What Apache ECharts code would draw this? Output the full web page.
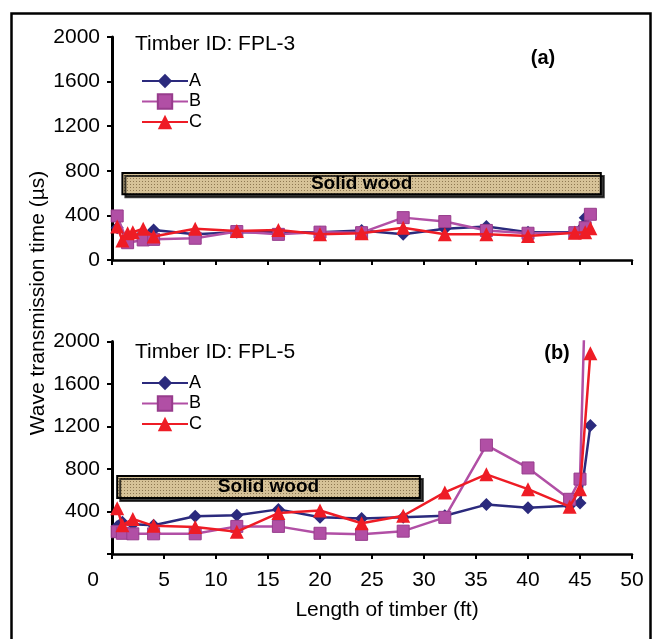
<!DOCTYPE html>
<html><head><meta charset="utf-8">
<script src="https://cdn.jsdelivr.net/npm/echarts@6/dist/echarts.min.js"></script>
<style>html,body{margin:0;padding:0;background:#fff}#c{width:658px;height:639px}</style>
</head><body><div id="c"></div>
<script>
// ---- data ----
const seriesNames = ['A', 'B', 'C'];
const xRange = [0, 50];
const yRange = [0, 2000];
// Panel (a) Timber ID: FPL-3  [length ft, time µs]
const topA = [[0.5,290],[1.5,205],[3,240],[4,270],[8,230],[12,250],[16,250],[20,250],[24,265],[28,230],[32,280],[36,300],[40,250],[44.5,250],[45.5,380]];
const topB = [[0.5,395],[1.5,155],[3,180],[4,185],[8,195],[12,255],[16,230],[20,250],[24,245],[28,380],[32,345],[36,265],[40,240],[44.5,245],[45.5,290],[46,410]];
const topC = [[0.5,300],[1,175],[1.5,240],[2,250],[3,280],[4,210],[8,280],[12,260],[16,270],[20,230],[24,240],[28,290],[32,230],[36,230],[40,215],[44.5,245],[45.5,250],[46,285]];
// Panel (b) Timber ID: FPL-5
const botA = [[0.5,260],[1,300],[2,280],[4,270],[8,355],[12,365],[16,420],[20,345],[24,335],[28,345],[32,360],[36,465],[40,435],[44,455],[45,480],[46,1210]];
const botB = [[0.5,210],[1,195],[2,190],[4,190],[8,190],[12,260],[16,260],[20,195],[24,185],[28,215],[32,345],[36,1025],[40,810],[44,515],[45,705],[46,4200]];
const botC = [[0.5,430],[1,270],[2,330],[4,265],[8,255],[12,210],[16,385],[20,410],[24,290],[28,360],[32,580],[36,750],[40,610],[44,445],[45,610],[46,1890]];
// "Solid wood" bands: [x from, x to], [y from, y to]
const solidTopX = [1, 47], solidTopY = [590, 780];
const solidBotX = [0.5, 29.6], solidBotY = [527, 734];
const panelTitles = ['Timber ID: FPL-3', 'Timber ID: FPL-5'];
const panelTags = ['(a)', '(b)'];
const xTitle = 'Length of timber (ft)';
const yTitle = 'Wave transmission time (µs)';
const bandLabel = 'Solid wood';

// ---- styles ----
const FONT = 'Liberation Sans, Arial, sans-serif';
const colors = ['#2B2A7D', '#B14FA5', '#EE1C25'];
const symbols = ['diamond', 'rect', 'triangle'];
const symSizes = [13, 12, 14];

const pc = document.createElement('canvas');
pc.width = 3; pc.height = 3;
const pctx = pc.getContext('2d');
pctx.fillStyle = '#D6C298'; pctx.fillRect(0,0,3,3);
pctx.fillStyle = '#8E7852'; pctx.fillRect(1,1,1,1);
const pattern = {image: pc, repeat: 'repeat'};

function mkSeries(name, idx, data, gi, band) {
  const s = {
    name, type: 'line', xAxisIndex: gi, yAxisIndex: gi, data,
    symbol: symbols[idx], symbolSize: symSizes[idx],
    lineStyle: {color: colors[idx], width: 2.5},
    itemStyle: {color: colors[idx], borderColor: idx === 1 ? '#973C8C' : colors[idx], borderWidth: idx === 1 ? 1 : 0},
    clip: true, animation: false, z: 3 + idx
  };
  if (band) {
    s.markArea = {
      silent: true,
      itemStyle: {color: pattern, borderColor: '#000', borderWidth: 2,
        shadowColor: 'rgba(0,0,0,0.75)', shadowOffsetX: 3, shadowOffsetY: 3, shadowBlur: 0.01},
      label: {show: true, position: 'inside', formatter: bandLabel, fontFamily: FONT, fontWeight: 'bold', fontSize: 19, color: '#000'},
      data: [[{xAxis: band[0][0], yAxis: band[1][0]}, {xAxis: band[0][1], yAxis: band[1][1]}]]
    };
  }
  return s;
}

function xAx(gi, showLabels) {
  return {
    type: 'value', gridIndex: gi, min: xRange[0], max: xRange[1], interval: 5,
    axisLine: {onZero: false, lineStyle: {color: '#000', width: 2.5}},
    axisTick: {show: true, inside: false, length: 5, lineStyle: {color: '#000', width: 2}},
    splitLine: {show: false},
    axisLabel: {show: showLabels, color: '#000', fontFamily: FONT, fontSize: 21, margin: 16,
      formatter: v => v === 0 ? '{z|0}' : String(v),
      rich: {z: {fontFamily: FONT, fontSize: 21, color: '#000', padding: [0, 38, 0, 0]}}},
    name: showLabels ? xTitle : '', nameLocation: 'middle', nameGap: 46,
    nameTextStyle: {color: '#000', fontFamily: FONT, fontSize: 21, padding: [0, 0, 0, 30]}
  };
}
function yAx(gi, showZero) {
  return {
    type: 'value', gridIndex: gi, min: yRange[0], max: yRange[1], interval: 400,
    axisLine: {show: true, onZero: false, lineStyle: {color: '#000', width: 3}},
    axisTick: {show: true, inside: false, length: 5, lineStyle: {color: '#000', width: 2}},
    splitLine: {show: false},
    axisLabel: {color: '#000', fontFamily: FONT, fontSize: 21, margin: 12,
      formatter: v => (v === 0 && !showZero) ? '' : String(v)}
  };
}
function legend(top) {
  return {
    data: seriesNames, orient: 'vertical', left: 136, top,
    itemWidth: 46, itemHeight: 18, itemGap: 2.5,
    textStyle: {color: '#000', fontFamily: FONT, fontSize: 18, padding: [0,0,0,-4]},
    selectedMode: false
  };
}

const chart = echarts.init(document.getElementById('c'), null, {renderer: 'canvas'});
chart.setOption({
  animation: false,
  backgroundColor: '#fff',
  grid: [
    {left: 112, top: 37, width: 520, height: 223},
    {left: 112, top: 341.5, width: 520, height: 212.5}
  ],
  xAxis: [xAx(0, false), xAx(1, true)],
  yAxis: [yAx(0, true), yAx(1, false)],
  legend: [legend(67), legend(369)],
  series: [
    mkSeries('A', 0, topA, 0, [solidTopX, solidTopY]),
    mkSeries('B', 1, topB, 0),
    mkSeries('C', 2, topC, 0),
    mkSeries('A', 0, botA, 1, [solidBotX, solidBotY]),
    mkSeries('B', 1, botB, 1),
    mkSeries('C', 2, botC, 1)
  ],
  graphic: [
    {type: 'rect', left: 9, top: 11, shape: {width: 639, height: 650}, style: {fill: 'none', stroke: '#000', lineWidth: 2.5}, silent: true},
    {type: 'text', x: 135, y: 44, style: {text: panelTitles[0], font: '21px ' + FONT, fill: '#000', textVerticalAlign: 'middle'}},
    {type: 'text', x: 135, y: 352, style: {text: panelTitles[1], font: '21px ' + FONT, fill: '#000', textVerticalAlign: 'middle'}},
    {type: 'text', x: 543, y: 58, style: {text: panelTags[0], font: 'bold 20px ' + FONT, fill: '#000', textAlign: 'center', textVerticalAlign: 'middle'}},
    {type: 'text', x: 557, y: 353, style: {text: panelTags[1], font: 'bold 20px ' + FONT, fill: '#000', textAlign: 'center', textVerticalAlign: 'middle'}},
    {type: 'text', x: 38, y: 303, rotation: Math.PI / 2, style: {text: yTitle, font: '21px ' + FONT, fill: '#000', textAlign: 'center', textVerticalAlign: 'middle'}}
  ]
});
</script></body></html>
